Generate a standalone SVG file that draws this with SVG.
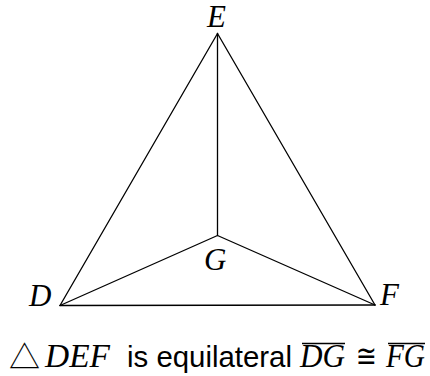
<svg xmlns="http://www.w3.org/2000/svg" width="430" height="376" viewBox="0 0 430 376">
<style>
.edge{stroke:#000;stroke-width:1.3;fill:none;stroke-linecap:round}
.lbl{font-family:"Liberation Serif","Times New Roman",serif;font-style:italic;font-size:31px;fill:#000}
.mth{font-family:"Liberation Serif","Times New Roman",serif;font-style:italic;font-size:33px;fill:#000}
.cap{font-family:"Liberation Sans",Arial,sans-serif;font-size:30px;fill:#000}
.sym{font-family:"DejaVu Sans","Liberation Sans",sans-serif;fill:#000}
.tri{font-family:"Noto Sans CJK SC","DejaVu Sans",sans-serif;font-size:31px;fill:#000}
.ovl{stroke:#000;stroke-width:1.5}
</style>
<rect width="430" height="376" fill="#fff"/>
<g id="connectors">
<line class="edge" x1="60" y1="305.5" x2="217.5" y2="33.5"/>
<line class="edge" x1="217.5" y1="33.5" x2="375" y2="305"/>
<line class="edge" x1="60" y1="305.5" x2="375" y2="305"/>
<line class="edge" x1="217.5" y1="33.5" x2="217.5" y2="235.5"/>
<line class="edge" x1="60" y1="305.5" x2="217.5" y2="235.5"/>
<line class="edge" x1="375" y1="305" x2="217.5" y2="235.5"/>
</g>
<g id="node-E"><text class="lbl" x="207" y="27">E</text></g>
<g id="node-D"><text class="lbl" x="29" y="306">D</text></g>
<g id="node-F"><text class="lbl" x="380" y="305">F</text></g>
<g id="node-G"><text class="lbl" x="204" y="270">G</text></g>
<g id="caption">
<text class="tri" x="9" y="368">△</text>
<text class="mth" x="45" y="367" textLength="65" lengthAdjust="spacingAndGlyphs">DEF</text>
<text class="cap" x="127" y="367" textLength="165" lengthAdjust="spacingAndGlyphs">is equilateral</text>
<line class="ovl" x1="302" y1="343.5" x2="345" y2="343.5"/>
<text class="mth" x="300" y="367" textLength="45" lengthAdjust="spacingAndGlyphs">DG</text>
<text class="sym" x="356" y="367" font-size="32" textLength="21" lengthAdjust="spacingAndGlyphs">≅</text>
<line class="ovl" x1="388" y1="343.5" x2="425" y2="343.5"/>
<text class="mth" x="386" y="367" textLength="39" lengthAdjust="spacingAndGlyphs">FG</text>
</g>
</svg>
